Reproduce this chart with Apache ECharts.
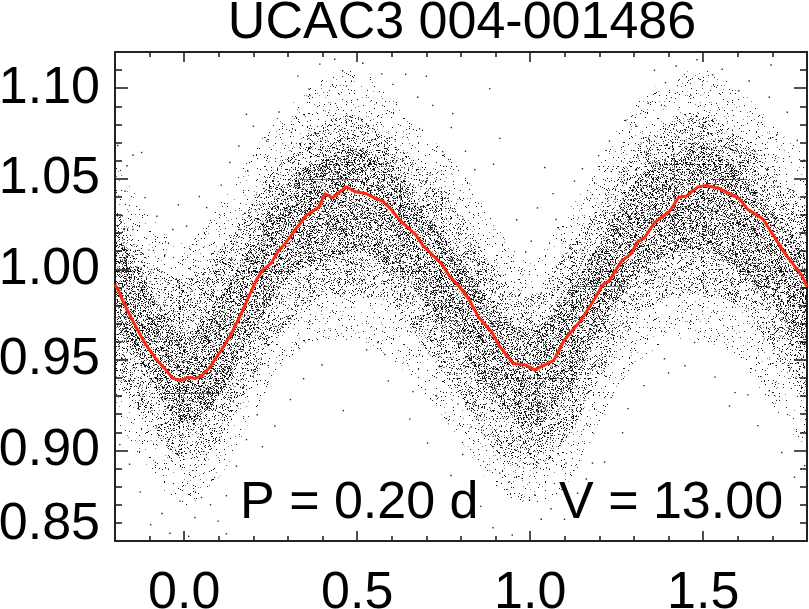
<!DOCTYPE html>
<html>
<head>
<meta charset="utf-8">
<style>html,body{margin:0;padding:0;background:#fff}#main{width:809px;height:609px}</style>
<script src="https://cdn.jsdelivr.net/npm/echarts@6/dist/echarts.min.js"></script>
</head>
<body>
<div id="main"></div>
<script>
const xMajorTicks = [0, 0.5, 1, 1.5];
const xMinorTicks = [-0.2, -0.1, 0.1, 0.2, 0.3, 0.4, 0.6, 0.7, 0.8, 0.9, 1.1, 1.2, 1.3, 1.4, 1.6, 1.7];
const yMajorTicks = [0.85, 0.9, 0.95, 1, 1.05, 1.1];
const yMinorTicks = [0.86, 0.87, 0.88, 0.89, 0.91, 0.92, 0.93, 0.94, 0.96, 0.97, 0.98, 0.99, 1.01, 1.02, 1.03, 1.04, 1.06, 1.07, 1.08, 1.09, 1.11];

// mean curve
const meanCurve = [[-0.2,0.9915],[-0.191,0.9888],[-0.177,0.9823],[-0.148,0.9712],[-0.111,0.9584],[-0.08,0.9501],[-0.053,0.9445],[-0.033,0.9399],[-0.01,0.9386],[0.012,0.9405],[0.031,0.9397],[0.05,0.9412],[0.072,0.9455],[0.108,0.9556],[0.132,0.9629],[0.161,0.974],[0.185,0.9842],[0.209,0.9943],[0.228,0.9998],[0.252,1.0035],[0.271,1.01],[0.291,1.014],[0.325,1.0229],[0.353,1.0297],[0.39,1.0345],[0.406,1.0419],[0.429,1.0395],[0.469,1.0456],[0.493,1.043],[0.527,1.0417],[0.556,1.0389],[0.575,1.0376],[0.599,1.033],[0.623,1.0272],[0.669,1.0192],[0.69,1.0131],[0.746,1.0026],[0.767,0.9961],[0.791,0.9915],[0.824,0.9832],[0.849,0.974],[0.888,0.9657],[0.912,0.9574],[0.95,0.9482],[0.987,0.9471],[1.013,0.9445],[1.068,0.9497],[1.099,0.9611],[1.148,0.9722],[1.186,0.9838],[1.21,0.9915],[1.229,0.9938],[1.263,1.0044],[1.292,1.0087],[1.311,1.0155],[1.33,1.0174],[1.359,1.0257],[1.403,1.0321],[1.429,1.0398],[1.451,1.0404],[1.484,1.0454],[1.509,1.0463],[1.547,1.0446],[1.605,1.0389],[1.629,1.033],[1.672,1.0279],[1.735,1.0091],[1.787,0.9961],[1.8,0.9905]];

// how far the cloud reaches at each phase (estimated by eye, three density levels)
const bandPhase = [-0.2,-0.1,0,0.1,0.2,0.3,0.4,0.5,0.6,0.7,0.8,0.9,1,1.1,1.2,1.3,1.4,1.5,1.6,1.7,1.8];
const outerLow  = [0.925,0.89,0.87,0.885,0.92,0.95,0.96,0.96,0.95,0.93,0.905,0.88,0.87,0.88,0.915,0.945,0.96,0.96,0.95,0.925,0.905];
const outerHigh = [1.055,1.03,1.015,1.035,1.065,1.09,1.105,1.11,1.095,1.075,1.055,1.025,1.005,1.03,1.06,1.09,1.105,1.11,1.1,1.08,1.055];
const midLow  = [0.945,0.915,0.895,0.905,0.94,0.97,0.985,0.985,0.98,0.955,0.93,0.9,0.89,0.905,0.94,0.97,0.985,0.985,0.98,0.955,0.93];
const midHigh = [1.03,1.005,0.995,1.01,1.04,1.065,1.08,1.085,1.07,1.055,1.03,1,0.985,1.01,1.035,1.065,1.08,1.085,1.075,1.055,1.03];
const coreLow  = [0.975,0.94,0.915,0.93,0.965,0.995,1.005,1.01,1,0.98,0.955,0.93,0.912,0.93,0.965,0.995,1.008,1.01,1,0.98,0.955];
const coreHigh = [1.02,0.99,0.965,0.985,1.015,1.05,1.06,1.068,1.055,1.03,1.005,0.98,0.965,0.985,1.015,1.048,1.062,1.07,1.055,1.032,1.005];

const strayPoints = [
[.46,.922],[.262,.9135],[.18,.906],[.098,.861],[.122,.854],[-.097,.859],[.031,.863],[-.012,.872],[.076,.87],[.05,.874],[.122,.875],[.527,.9556],[.56,.9596],[.58,.953],
[1.576,.9246],[1.629,.9307],[1.691,.933],[1.388,.9506],[1.4,.9428],[1.267,.9098],[1.475,.9596],[1.032,.862],[1.099,.862],[1.013,.8754],[.998,.8726],[.912,.8875],[.94,.8827],[1.18,.893],[1.104,.893],[.729,.93],[.661,.9325],[.791,.9257],[.83,.913],[.868,.9086],
[.883,1.0998],[.912,1.0723],[1.042,1.0562],[.894,1.058],[1.128,1.0487],[1.075,1.0275],[1.003,1.0155],[.776,1.086],[.718,1.0905],[.675,1.095],[.64,1.1077],[.7,1.1066],[.84,1.055],[.747,1.065],
[1.359,1.1099],[1.422,1.1123],[1.555,1.1105],[1.696,1.1128],[1.633,1.104],[1.691,1.095],[1.714,1.0745],[1.743,1.0867],[1.306,1.079],[1.229,1.0708],[1.18,1.0413],[1.258,1.0537],
[.435,1.116],[.329,1.1067],[.469,1.1012],[.18,1.0856],[.2,1.079],[.238,1.0708],[.31,1.0756],[.132,1.059],[-.123,1.0645],[-.148,1.0631],[.184,1.0542],[.065,1.0341],[.007,1.0238],[-.056,1.008],[-.113,1.0396],[-.171,1.0431],[-.148,1.022],[-.033,1.022],
[.392,1.1133],[.516,1.1138],[.571,1.1079],[.603,1.1021],[.458,1.1096],[.361,1.0994],[1.482,1.1157],[1.527,1.1074],[1.391,1.1031],[1.603,1.0986],[1.341,1.0917],[1.276,1.0822],[.274,1.0869],[.158,1.0681],[.107,1.0465],[.044,1.0402],[-.017,1.0356],[-.079,1.0293],[-.192,1.0684],[-.165,1.0572],
[.961,1.0274],[1.021,1.0339],[1.066,1.0418],[.987,1.0096],[.813,1.0652],[.772,1.0783],[1.151,1.0556],[1.198,1.0628],[1.772,1.0712],[1.791,1.0603],[.345,.9396],[.398,.9472],[.307,.9281],[.226,.9021],[.151,.8913],[.211,.9197],[.59,.9384],[.652,.9173],[.703,.9041],[.771,.8862],[.805,.8978],[.857,.8691],[.893,.8573],
[.948,.8533],[1.06,.8678],[1.137,.8764],[1.162,.8842],[1.215,.8936],[1.283,.9231],[1.329,.9358],[1.447,.9468],[1.534,.9405],[1.592,.9319],[1.658,.9137],[1.727,.8989],[1.764,.8852],[1.793,.8916],[-.186,.9032],[-.158,.8924],[-.127,.8771],[-.064,.8652],[-.041,.8543],[.013,.8526]
];

const axisFont = { color: '#000', fontSize: 52, fontFamily: 'Liberation Sans' };

// IDL style frame: ticks on all four sides, pointing inwards
function sideAxis(kind, position, ticks, len, labelled, showLine) {
  const ax = {
    type: 'value',
    position: position,
    min: kind === 'x' ? -0.2 : 0.85,
    max: kind === 'x' ? 1.8 : 1.12,
    splitLine: { show: false },
    axisLine: { show: showLine, onZero: false, lineStyle: { color: '#222', width: 2 } },
    axisTick: { show: true, inside: true, length: len, customValues: ticks, lineStyle: { color: '#222', width: 1.6 } },
    axisLabel: { show: false }
  };
  if (labelled) {
    ax.axisLabel = {
      show: true,
      customValues: ticks,
      margin: kind === 'x' ? 27 : 15,
      // the reference lifts the lowest y label clear of the x axis
      formatter: v => kind === 'x' ? v.toFixed(1) : (v === 0.85 ? '{low|0.85}' : v.toFixed(2)),
      rich: { low: { ...axisFont, padding: [0, 0, 32, 0] } },
      ...axisFont
    };
  }
  return ax;
}

// fill texture for the bands: a fixed speckle list, scrambled by integer steps
const speckle = [[3,2],[17,1],[29,4],[44,3],[56,6],[9,7],[23,9],[37,8],[50,11],[1,12],[14,13],[33,14],[59,15],[26,16],[42,17],[7,18],[19,20],[52,19],[35,21],[47,23],[11,24],[2,26],[28,25],[57,27],[39,28],[16,29],[22,31],[49,30],[5,32],[31,33],[43,34],[13,35],[54,36],[25,37],[60,38],[36,39],[8,40],[46,41],[18,42],[30,43],[3,44],[52,45],[40,46],[12,47],[24,48],[58,49],[34,50],[6,51],[47,52],[20,51],[27,3],[38,12],[10,16],[55,22],[32,28],[15,38],[44,44],[21,6],[48,15],[4,37]];

function speckleTile(copies, w, h) {
  const c = document.createElement('canvas');
  c.width = w; c.height = h;
  const g = c.getContext('2d');
  for (let k = 1; k <= copies; k++) {
    speckle.forEach((p, i) => {
      const px = (p[0] * (k * 7 + 3) + p[1] * (k * 11 + 1) + k * 13) % w;
      const py = (p[1] * (k * 5 + 2) + p[0] * p[0] * (k + 4) + k * 29) % h;
      g.fillStyle = i % 3 === 0 ? 'rgba(0,0,0,0.5)' : 'rgba(0,0,0,0.9)';
      g.fillRect(px, py, 1, 1);
    });
  }
  return { image: c, repeat: 'repeat' };
}

function bandSeries(low, high, copies, w, h, z) {
  const fill = speckleTile(copies, w, h);
  return {
    type: 'custom',
    silent: true,
    clip: true,
    z: z,
    data: [0],
    renderItem: (params, api) => {
      const pts = [];
      bandPhase.forEach((p, i) => pts.push(api.coord([p, high[i]])));
      for (let i = bandPhase.length - 1; i >= 0; i--) pts.push(api.coord([bandPhase[i], low[i]]));
      return { type: 'polygon', shape: { points: pts, smooth: 0.4 }, style: { fill: fill } };
    }
  };
}

const chart = echarts.init(document.getElementById('main'), null, { renderer: 'canvas' });

chart.setOption({
  animation: false,
  backgroundColor: '#fff',
  title: {
    text: 'UCAC3 004-001486',
    left: 457,
    top: -7,
    textAlign: 'center',
    textStyle: { ...axisFont, fontWeight: 'normal' }
  },
  grid: { left: 115, top: 52, right: 2, bottom: 68, outerBoundsMode: 'none' },
  xAxis: [
    sideAxis('x', 'bottom', xMajorTicks, 10, true, true),
    sideAxis('x', 'bottom', xMinorTicks, 5, false, false),
    sideAxis('x', 'top', xMajorTicks, 10, false, true),
    sideAxis('x', 'top', xMinorTicks, 5, false, false)
  ],
  yAxis: [
    sideAxis('y', 'left', yMajorTicks, 13, true, true),
    sideAxis('y', 'left', yMinorTicks, 7, false, false),
    sideAxis('y', 'right', yMajorTicks, 13, false, true),
    sideAxis('y', 'right', yMinorTicks, 7, false, false)
  ],
  series: [
    bandSeries(outerLow, outerHigh, 10, 127, 113, 1),
    bandSeries(midLow, midHigh, 34, 131, 109, 2),
    bandSeries(coreLow, coreHigh, 60, 137, 107, 3),
    {
      type: 'scatter',
      data: strayPoints,
      symbol: 'rect',
      symbolSize: 1.4,
      silent: true,
      z: 4,
      itemStyle: { color: '#000', opacity: 0.85 }
    },
    {
      type: 'line',
      data: meanCurve,
      showSymbol: false,
      silent: true,
      z: 5,
      lineStyle: { color: '#ff2a10', width: 3 }
    }
  ],
  graphic: [
    { type: 'text', left: 240, top: 478, z: 10, style: { text: 'P = 0.20 d', fill: '#000', font: '52px "Liberation Sans"' } },
    { type: 'text', left: 559, top: 478, z: 10, style: { text: 'V = 13.00', fill: '#000', font: '52px "Liberation Sans"' } }
  ]
});
</script>
</body>
</html>
